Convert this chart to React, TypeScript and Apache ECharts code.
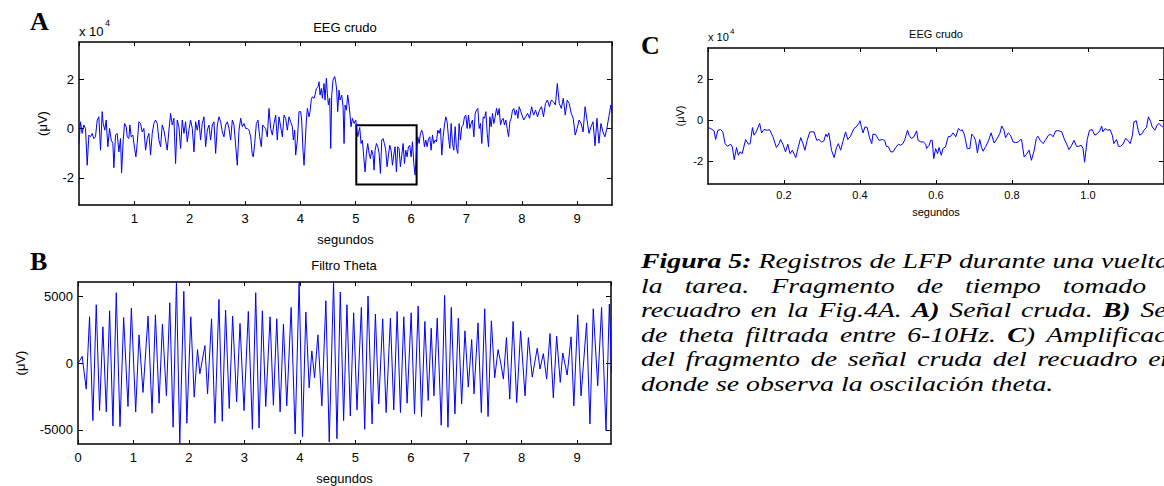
import React, { useEffect, useRef } from "react";
import * as echarts from "echarts";

// Panel A: raw EEG (x 10^4 uV) — [seconds, value]
const rawA: [number, number][] = [
  [0.0, -0.61], [0.027, 0.27], [0.057, -0.2], [0.087, 0.14], [0.118, 0.0], [0.148, -1.49], [0.178, -0.27], [0.208, -0.34],
  [0.238, -0.2], [0.268, -0.41], [0.298, -0.34], [0.329, 0.34], [0.359, 0.47], [0.389, -0.88], [0.419, 0.68], [0.437, 0.2],
  [0.467, -0.07], [0.491, 0.34], [0.521, -0.74], [0.552, 0.0], [0.582, -0.47], [0.612, -0.61], [0.63, -1.59], [0.66, -0.27],
  [0.69, -0.2], [0.72, -0.95], [0.75, -0.41], [0.769, -1.8], [0.799, -0.47], [0.823, 0.2], [0.853, 0.07], [0.871, -0.34],
  [0.901, -0.41], [0.919, 0.14], [0.943, -0.34], [0.973, -0.27], [1.004, -0.81], [1.028, -1.15], [1.052, -0.61], [1.082, 0.27],
  [1.112, 0.2], [1.142, -0.14], [1.172, 0.0], [1.203, -0.88], [1.233, -0.41], [1.263, -0.2], [1.293, -1.08], [1.323, -0.2],
  [1.353, 0.2], [1.383, 0.34], [1.414, 0.2], [1.444, -0.47], [1.474, -0.74], [1.504, 0.14], [1.534, -0.07], [1.564, -0.47],
  [1.594, -0.88], [1.625, -0.07], [1.655, 0.61], [1.685, 0.14], [1.715, 0.41], [1.745, -1.42], [1.775, 0.34], [1.805, 0.07],
  [1.836, -0.81], [1.866, 0.34], [1.896, -0.2], [1.926, 0.27], [1.956, -0.54], [1.986, -0.07], [2.016, 0.34], [2.047, 0.0],
  [2.077, -0.95], [2.107, 0.27], [2.137, -0.07], [2.167, 0.34], [2.197, -0.47], [2.227, 0.2], [2.258, 0.47], [2.288, -0.74],
  [2.318, -0.07], [2.348, 0.14], [2.378, -0.47], [2.408, 0.14], [2.438, 0.27], [2.469, -1.01], [2.499, 0.14], [2.529, 0.47],
  [2.559, 0.27], [2.589, -0.14], [2.619, -0.34], [2.649, 0.14], [2.68, 0.27], [2.71, 0.0], [2.74, -0.47], [2.77, 0.34],
  [2.8, 0.14], [2.83, -0.68], [2.86, -1.49], [2.891, -0.07], [2.921, 0.41], [2.951, 0.07], [2.981, 0.2], [3.011, 0.0],
  [3.041, 0.0], [3.071, -0.07], [3.102, -0.34], [3.132, -1.08], [3.15, -1.15], [3.174, -0.61], [3.204, 0.2], [3.234, 0.34],
  [3.264, -0.34], [3.294, -0.74], [3.318, 0.14], [3.342, 0.07], [3.372, 0.0], [3.402, -0.34], [3.433, 0.81], [3.463, 0.0],
  [3.493, -0.27], [3.523, 0.2], [3.553, 0.54], [3.583, -0.47], [3.613, 0.47], [3.644, 0.07], [3.674, -0.34], [3.704, 0.54],
  [3.734, 0.41], [3.764, -0.07], [3.794, 0.47], [3.824, 0.27], [3.855, 0.07], [3.873, -0.47], [3.897, -0.07], [3.915, -1.08],
  [3.945, -0.47], [3.975, 0.68], [4.005, 0.68], [4.023, 0.34], [4.047, -0.88], [4.066, -1.49], [4.084, -0.74], [4.108, 0.34],
  [4.126, 0.81], [4.156, 0.47], [4.174, 0.68], [4.198, 1.18], [4.216, 1.28], [4.246, 1.22], [4.264, 1.35], [4.289, 1.62],
  [4.319, 1.69], [4.337, 1.89], [4.355, 1.35], [4.379, 1.62], [4.397, 1.22], [4.427, 1.82], [4.445, 1.15], [4.469, 2.03],
  [4.487, 1.42], [4.506, 0.95], [4.53, 1.22], [4.548, -0.81], [4.566, 1.35], [4.59, 1.96], [4.62, 2.1], [4.638, 1.89],
  [4.656, 1.55], [4.674, 0.68], [4.698, 1.55], [4.717, 1.15], [4.747, 1.35], [4.771, 0.88], [4.789, -0.61], [4.807, 0.95],
  [4.831, 0.74], [4.855, 1.35], [4.879, 0.95], [4.897, 0.54], [4.915, 0.07], [4.939, 0.41], [4.97, 0.2], [5.0, 0.34],
  [5.018, 0.0], [5.036, -0.34], [5.054, -0.14], [5.072, 0.04], [5.096, -0.61], [5.12, -0.47], [5.145, -1.15], [5.169, -1.76],
  [5.193, -1.01], [5.217, -0.61], [5.241, -1.01], [5.265, -1.22], [5.289, -0.88], [5.313, -1.08], [5.331, -1.69], [5.349, -0.88],
  [5.374, -0.61], [5.398, -0.74], [5.422, -1.01], [5.446, -1.82], [5.47, -0.47], [5.494, -0.41], [5.518, -0.61], [5.542, -0.88],
  [5.566, -1.55], [5.591, -1.08], [5.615, -0.68], [5.639, -0.88], [5.663, -1.49], [5.687, -1.08], [5.711, -0.74], [5.735, -1.76],
  [5.759, -0.74], [5.783, -0.81], [5.807, -1.55], [5.832, -1.08], [5.856, -0.61], [5.88, -1.42], [5.904, -0.88], [5.928, -1.15],
  [5.952, -0.74], [5.976, -0.68], [6.0, -1.15], [6.025, -0.54], [6.049, -1.42], [6.073, -1.89], [6.097, -0.88], [6.121, -0.34],
  [6.145, -0.61], [6.169, -0.2], [6.193, -0.07], [6.217, -0.27], [6.242, -0.74], [6.266, -0.47], [6.29, -0.74], [6.314, -0.41],
  [6.338, -0.34], [6.362, -0.88], [6.386, -0.27], [6.41, -0.61], [6.434, -0.47], [6.458, -0.54], [6.483, -0.07], [6.507, -0.2],
  [6.531, 0.0], [6.555, -1.08], [6.579, -0.34], [6.603, 0.14], [6.627, 0.47], [6.651, 0.27], [6.675, -0.34], [6.7, -0.81],
  [6.724, 0.2], [6.748, -0.61], [6.772, -0.88], [6.796, 0.07], [6.82, -0.81], [6.844, -1.01], [6.868, 0.2], [6.892, -0.47],
  [6.916, 0.07], [6.941, 0.14], [6.965, 0.47], [6.989, 0.54], [7.013, 0.0], [7.037, 0.54], [7.061, 0.0], [7.085, 0.2],
  [7.109, 0.34], [7.134, -0.34], [7.158, 0.61], [7.182, 0.74], [7.206, 0.81], [7.23, 0.0], [7.254, 0.2], [7.278, -0.61],
  [7.302, 0.47], [7.327, 0.41], [7.351, 0.68], [7.375, -0.2], [7.399, -0.74], [7.423, 0.47], [7.447, 0.07], [7.471, 0.61],
  [7.495, 0.2], [7.519, 0.47], [7.544, 0.81], [7.568, 0.54], [7.592, 0.81], [7.616, 0.14], [7.64, 0.34], [7.664, 0.41],
  [7.688, 0.14], [7.712, 0.34], [7.736, 0.0], [7.761, -0.34], [7.785, 0.27], [7.809, 0.41], [7.833, 0.74], [7.857, 0.81],
  [7.881, 0.54], [7.905, 0.74], [7.929, 0.41], [7.954, 0.88], [7.984, 0.68], [8.034, 0.34], [8.07, 0.47], [8.105, 0.61],
  [8.141, 0.41], [8.177, 0.88], [8.213, 0.54], [8.249, 0.74], [8.284, 0.47], [8.32, 0.74], [8.356, 0.88], [8.392, 0.47],
  [8.428, 1.01], [8.463, 1.15], [8.499, 0.88], [8.535, 1.15], [8.571, 1.08], [8.607, 0.95], [8.642, 1.82], [8.678, 1.01],
  [8.714, 0.81], [8.75, 1.22], [8.786, 0.54], [8.821, 1.15], [8.857, 1.01], [8.893, 0.61], [8.929, 0.41], [8.965, -0.27],
  [9.0, 0.0], [9.036, 0.34], [9.072, 0.2], [9.108, -0.14], [9.144, 0.88], [9.179, 0.34], [9.215, -0.2], [9.251, 0.07],
  [9.287, 0.27], [9.323, -0.7], [9.358, 0.41], [9.394, -0.6], [9.43, 0.2], [9.466, -0.14], [9.502, -0.34], [9.537, 0.0],
  [9.573, 0.47], [9.609, 0.95], [9.63, 0.61],
];

// Panel B: theta-filtered signal (uV) — [seconds, value]
const thetaB: [number, number][] = [
  [0, 0], [0.028, 150], [0.075, 500], [0.148, -1950], [0.208, 3450], [0.268, -4300], [0.329, 4350], [0.389, -3550],
  [0.449, 2700], [0.51, -3650], [0.57, 3900], [0.63, -4700], [0.69, 5250], [0.757, -4750], [0.823, 3400], [0.901, -3250],
  [0.962, 4100], [1.04, -3650], [1.1, 2100], [1.172, -2200], [1.263, 3500], [1.335, -3750], [1.396, 3600], [1.462, -3000],
  [1.522, 2900], [1.594, -2450], [1.655, 4500], [1.715, -4800], [1.775, 6100], [1.835, -6000], [1.908, 5350], [1.962, -4500],
  [2.034, 3450], [2.095, -2550], [2.155, 1000], [2.197, -800], [2.288, 1300], [2.336, -2300], [2.408, 3300], [2.469, -4500],
  [2.541, 4750], [2.601, -4350], [2.661, 3950], [2.727, -3400], [2.788, 3500], [2.86, -2900], [2.921, 2950], [2.993, -3550],
  [3.071, 3850], [3.144, -4950], [3.204, 5250], [3.264, -4850], [3.324, 3900], [3.385, -3250], [3.463, 3450], [3.523, -3150],
  [3.584, 3300], [3.644, -3650], [3.704, 2900], [3.764, -3200], [3.843, 4150], [3.915, -5300], [3.987, 6050], [4.048, -5500],
  [4.108, 3800], [4.168, -1850], [4.216, 900], [4.265, -1100], [4.325, 2100], [4.397, -3200], [4.469, 4650], [4.53, -5900],
  [4.608, 6100], [4.669, -5650], [4.729, 5300], [4.789, -4300], [4.849, 4350], [4.91, -3950], [4.97, 3750], [5.03, -3500],
  [5.109, 4150], [5.169, -4950], [5.229, 5000], [5.302, -4550], [5.362, 3650], [5.422, -3050], [5.494, 3300], [5.555, -3700],
  [5.633, 3350], [5.693, -3500], [5.754, 3850], [5.814, -3700], [5.874, 3450], [5.934, -3000], [6.007, 3750], [6.067, -3800],
  [6.133, 4250], [6.194, -4000], [6.254, 3100], [6.314, -2800], [6.368, 2600], [6.417, -2450], [6.477, 3350], [6.549, -4650],
  [6.61, 5050], [6.67, -4800], [6.73, 4150], [6.796, -3800], [6.857, 3350], [6.917, -3050], [6.977, 2400], [7.037, -1800],
  [7.098, 1750], [7.14, -2300], [7.212, 3000], [7.272, -3700], [7.333, 4050], [7.393, -4000], [7.453, 3150], [7.513, -1100],
  [7.574, 1000], [7.622, 0], [7.67, -1200], [7.725, 1900], [7.785, -2700], [7.845, 3100], [7.91, -2950], [7.98, 2400],
  [8.06, -2450], [8.12, 1900], [8.19, -1050], [8.28, 1100], [8.33, -450], [8.39, 700], [8.45, -1200], [8.51, 2200],
  [8.57, -2600], [8.63, 2000], [8.695, -1450], [8.74, 750], [8.82, -900], [8.89, 1950], [8.94, -3200], [9.01, 3600],
  [9.07, -2450], [9.17, 3000], [9.23, -4550], [9.29, 4050], [9.37, -1700], [9.44, 4150], [9.52, -5050], [9.58, 4400],
  [9.62, -700],
];

// Panel C: zoomed raw EEG fragment (x 10^4 uV) — [seconds, value]
const rawC: [number, number][] = [
  [0.0, -0.36], [0.007, -0.41], [0.016, -0.52], [0.02, -0.94], [0.026, -0.49], [0.033, -0.46], [0.039, -0.57], [0.045, -1.14],
  [0.051, -1.27], [0.06, -1.17], [0.064, -1.3], [0.069, -1.92], [0.075, -1.33], [0.08, -1.71], [0.084, -1.54], [0.09, -1.63],
  [0.099, -0.94], [0.106, -1.17], [0.111, -1.14], [0.117, -0.36], [0.121, -0.73], [0.127, -0.57], [0.136, -0.16], [0.141, -0.62],
  [0.147, -0.46], [0.156, -0.49], [0.162, -0.46], [0.171, -0.81], [0.18, -1.33], [0.187, -1.14], [0.191, -0.94], [0.197, -1.17],
  [0.204, -1.54], [0.21, -1.17], [0.216, -1.63], [0.222, -1.46], [0.231, -1.82], [0.238, -1.27], [0.244, -0.85], [0.25, -1.14],
  [0.255, -1.46], [0.261, -0.98], [0.268, -0.57], [0.279, -0.57], [0.286, -0.98], [0.292, -0.94], [0.299, -1.06], [0.305, -1.01],
  [0.31, -0.68], [0.314, -0.81], [0.318, -0.62], [0.325, -1.46], [0.332, -1.82], [0.338, -1.33], [0.343, -1.14], [0.349, -1.46],
  [0.356, -0.98], [0.362, -0.57], [0.368, -0.94], [0.375, -0.78], [0.384, -0.41], [0.39, -0.33], [0.397, -0.16], [0.4, -0.03],
  [0.404, -0.36], [0.408, -0.62], [0.413, -0.33], [0.419, -0.36], [0.425, -0.85], [0.431, -1.14], [0.434, -0.68], [0.441, -0.7],
  [0.45, -0.98], [0.459, -0.94], [0.465, -0.98], [0.469, -1.27], [0.475, -1.3], [0.481, -1.54], [0.487, -1.54], [0.494, -1.33],
  [0.501, -1.17], [0.507, -1.22], [0.513, -1.14], [0.518, -0.94], [0.525, -0.49], [0.529, -0.73], [0.535, -0.89], [0.542, -0.81],
  [0.549, -0.52], [0.553, -0.98], [0.56, -1.06], [0.567, -1.06], [0.573, -1.17], [0.575, -1.38], [0.582, -1.22], [0.586, -0.98],
  [0.59, -0.98], [0.594, -1.87], [0.599, -1.38], [0.604, -1.63], [0.608, -1.33], [0.614, -1.71], [0.618, -1.38], [0.625, -1.3],
  [0.632, -0.81], [0.639, -0.78], [0.645, -0.62], [0.652, -0.81], [0.659, -0.41], [0.665, -0.52], [0.669, -0.46], [0.675, -0.73],
  [0.682, -1.38], [0.689, -1.38], [0.694, -0.68], [0.7, -0.81], [0.704, -0.98], [0.709, -1.59], [0.715, -0.94], [0.72, -1.33],
  [0.724, -1.51], [0.731, -1.27], [0.738, -1.01], [0.745, -0.62], [0.753, -1.11], [0.761, -0.89], [0.768, -0.65], [0.773, -0.29],
  [0.779, -0.49], [0.783, -0.86], [0.79, -0.62], [0.796, -0.73], [0.803, -1.06], [0.81, -1.09], [0.817, -1.06], [0.82, -0.98],
  [0.825, -0.93], [0.832, -1.79], [0.838, -1.66], [0.845, -1.46], [0.851, -1.95], [0.858, -1.5], [0.864, -0.89], [0.868, -0.78],
  [0.875, -1.01], [0.882, -1.14], [0.889, -0.94], [0.896, -0.73], [0.902, -0.68], [0.908, -0.81], [0.915, -0.52], [0.924, -0.52],
  [0.931, -0.57], [0.937, -0.89], [0.944, -1.17], [0.95, -1.43], [0.957, -1.22], [0.963, -0.98], [0.97, -1.27], [0.976, -1.27],
  [0.982, -1.22], [0.987, -1.38], [0.991, -2.04], [0.998, -0.94], [1.004, -0.49], [1.011, -0.46], [1.018, -0.73], [1.025, -0.65],
  [1.031, -0.52], [1.036, -0.29], [1.039, -0.57], [1.045, -0.41], [1.051, -0.49], [1.058, -0.46], [1.064, -0.73], [1.068, -1.14],
  [1.075, -0.94], [1.08, -1.27], [1.086, -1.27], [1.092, -1.17], [1.099, -0.89], [1.105, -0.98], [1.111, -1.14], [1.117, -0.73],
  [1.121, -0.08], [1.127, -0.03], [1.132, -0.49], [1.136, -0.73], [1.143, -0.65], [1.147, -0.49], [1.154, -0.36], [1.159, 0.16],
  [1.165, -0.08], [1.169, -0.33], [1.176, -0.49], [1.182, -0.24], [1.187, -0.16], [1.193, -0.29], [1.197, -0.33],
];

// highlighted fragment in panel A (seconds / x10^4 uV)
const boxA = { t0: 5.01, t1: 6.1, vTop: 0.13, vBottom: -2.27 };

const rawTicks = [-2, 0, 2];
const thetaTicks = [-5000, 0, 5000];

const titles = { a: "EEG crudo", b: "Filtro Theta", c: "EEG crudo" };
const xName = "segundos";
const yName = "(\u03bcV)";

const captionLines: string[] = [
  "**Figura** **5:** Registros de LFP durante una vuelta de",
  "la tarea. Fragmento de tiempo tomado del",
  "recuadro en la Fig.4A. **A)** Señal cruda. **B)** Señal",
  "de theta filtrada entre 6-10Hz. **C**) Amplificación",
  "del fragmento de señal cruda del recuadro en A",
  "donde se observa la oscilación theta.",
];

const SANS = "Liberation Sans";
const SERIF = "Liberation Serif";

function axisPair(grid: number, min: number, max: number, interval: number, fs: number, margin: number, nameGap: number, opts: any) {
  const common = {
    type: "value",
    gridIndex: grid,
    min,
    max,
    interval,
    splitLine: { show: false },
    axisLine: { onZero: false, lineStyle: { color: "#000", width: 1.5 } },
    axisTick: { inside: true, length: 4, lineStyle: { color: "#000", width: 1 } },
  };
  return [
    {
      ...common,
      position: "bottom",
      name: xName,
      nameLocation: "middle",
      nameGap,
      nameTextStyle: { fontFamily: SANS, fontSize: fs, color: "#000" },
      axisLabel: {
        fontFamily: SANS,
        fontSize: fs,
        color: "#000",
        margin,
        showMinLabel: opts.showMin,
        showMaxLabel: false,
        formatter: opts.fmt,
      },
    },
    { ...common, position: "top", axisLabel: { show: false } },
  ];
}

function yPair(grid: number, min: number, max: number, ticks: number[], fs: number, margin: number, nameGap: number) {
  const common = {
    type: "value",
    gridIndex: grid,
    min,
    max,
    splitLine: { show: false },
    axisLine: { show: true, onZero: false, lineStyle: { color: "#000", width: 1.5 } },
    axisTick: { show: true, inside: true, length: 5, customValues: ticks, lineStyle: { color: "#000", width: 1 } },
  };
  return [
    {
      ...common,
      position: "left",
      name: yName,
      nameLocation: "middle",
      nameGap,
      nameRotate: 90,
      nameTextStyle: { fontFamily: SANS, fontSize: fs, color: "#000" },
      axisLabel: { fontFamily: SANS, fontSize: fs, color: "#000", margin, customValues: ticks, formatter: (v: number) => String(v) },
    },
    { ...common, position: "right", axisLabel: { show: false } },
  ];
}

function buildCaption(): any[] {
  const canvas = document.createElement("canvas");
  const ctx = canvas.getContext("2d") as CanvasRenderingContext2D;
  const FS = 21;
  const font = (bold: boolean) => `italic ${bold ? "bold " : ""}${FS}px "${SERIF}"`;
  const meas = (t: string, bold: boolean) => {
    ctx.font = font(bold);
    return ctx.measureText(t).width;
  };
  type Piece = { t: string; b: boolean };
  const parseWord = (w: string): Piece[] => {
    const parts = w.split("**");
    const out: Piece[] = [];
    parts.forEach((p, i) => {
      if (p) out.push({ t: p, b: i % 2 === 1 });
    });
    return out;
  };
  const lines = captionLines.map((l) => l.split(" ").filter(Boolean).map(parseWord));
  const wordW = (w: Piece[]) => w.reduce((s, p) => s + meas(p.t, p.b), 0);
  const sp = meas(" ", false);
  const x0 = 641;
  // calibrate horizontal scale: line 1 up to "vuelta" reaches the right edge
  const l1 = lines[0];
  let upToVuelta = 0;
  for (let i = 0; i < l1.length - 1; i++) upToVuelta += wordW(l1[i]) + (i < l1.length - 2 ? sp : 0);
  const s = (1169 - x0) / upToVuelta;
  const fullNat = l1.reduce((a, w) => a + wordW(w), 0) + sp * (l1.length - 1);
  const els: any[] = [];
  lines.forEach((words, li) => {
    const y = 261 + li * 24.5;
    const total = words.reduce((a, w) => a + wordW(w), 0);
    const justify = li < lines.length - 1;
    const gap = justify ? (fullNat - total) / (words.length - 1) : sp;
    let cx = 0;
    words.forEach((w) => {
      let px = cx;
      w.forEach((p) => {
        els.push({
          type: "text",
          x: x0 + px * s,
          y,
          scaleX: s,
          silent: true,
          style: {
            text: p.t,
            fontFamily: SERIF,
            fontSize: FS,
            fontStyle: "italic",
            fontWeight: p.b ? "bold" : "normal",
            fill: "#000",
            align: "left",
            verticalAlign: "middle",
          },
        });
        px += meas(p.t, p.b);
      });
      cx += wordW(w) + gap;
    });
  });
  return els;
}

function txt(x: number, y: number, text: string, size: number, opts: any = {}) {
  return {
    type: "text",
    x,
    y,
    silent: true,
    style: {
      text,
      fontFamily: opts.family || SANS,
      fontSize: size,
      fontWeight: opts.bold ? "bold" : "normal",
      fill: "#000",
      align: opts.align || "left",
      verticalAlign: "middle",
    },
  };
}

export default function App() {
  const ref = useRef<HTMLDivElement>(null);
  useEffect(() => {
    if (!ref.current) return;
    const chart = echarts.init(ref.current, undefined, { renderer: "svg" });
    const [axB, axBt] = axisPair(1, 0, 9.61, 1, 13, 7, 28, { showMin: true, fmt: (v: number) => String(Math.round(v)) });
    const [axA, axAt] = axisPair(0, 0, 9.63, 1, 13, 7, 28, { showMin: false, fmt: (v: number) => String(Math.round(v)) });
    const [axC, axCt] = axisPair(2, 0, 1.2, 0.2, 11, 5, 22, { showMin: false, fmt: (v: number) => v.toFixed(1) });
    const [yA, yAr] = yPair(0, -3.1, 3.5, rawTicks, 13, 5, 30);
    const [yB, yBr] = yPair(1, -6050, 6050, thetaTicks, 13, 5, 51);
    const [yC, yCr] = yPair(2, -3.1, 3.5, rawTicks, 11, 5, 23);
    const line = { type: "line", showSymbol: false, symbol: "none", lineStyle: { color: "#0000ff", width: 1 }, silent: true };
    chart.setOption({
      animation: false,
      backgroundColor: "#fff",
      grid: [
        { left: 79, top: 42, width: 533, height: 163 },
        { left: 78, top: 282, width: 533, height: 163 },
        { left: 708, top: 48, width: 458, height: 136 },
      ],
      xAxis: [axA, axAt, axB, axBt, axC, axCt],
      yAxis: [yA, yAr, yB, yBr, yC, yCr],
      series: [
        {
          ...line,
          name: "A",
          xAxisIndex: 0,
          yAxisIndex: 0,
          data: rawA,
          markArea: {
            silent: true,
            itemStyle: { color: "rgba(0,0,0,0)", borderColor: "#000", borderWidth: 2 },
            data: [[{ coord: [boxA.t0, boxA.vTop] }, { coord: [boxA.t1, boxA.vBottom] }]],
          },
        },
        { ...line, name: "B", xAxisIndex: 2, yAxisIndex: 2, data: thetaB },
        { ...line, name: "C", xAxisIndex: 4, yAxisIndex: 4, data: rawC },
      ],
      graphic: [
        txt(30, 21, "A", 26, { family: SERIF, bold: true }),
        txt(30, 261, "B", 26, { family: SERIF, bold: true }),
        txt(641, 45, "C", 26, { family: SERIF, bold: true }),
        txt(345, 27, titles.a, 13, { align: "center" }),
        txt(344, 265, titles.b, 13, { align: "center" }),
        txt(936, 34, titles.c, 11, { align: "center" }),
        txt(79, 31, "x 10", 13),
        txt(105, 23, "4", 9),
        txt(708, 37, "x 10", 11),
        txt(730, 31, "4", 8),
        ...buildCaption(),
      ],
    });
    return () => chart.dispose();
  }, []);
  return (
    <div style={{ position: "fixed", left: 0, top: 0, width: 1164, height: 486, background: "#fff", overflow: "hidden" }}>
      <div ref={ref} style={{ width: 1164, height: 486 }} />
    </div>
  );
}
